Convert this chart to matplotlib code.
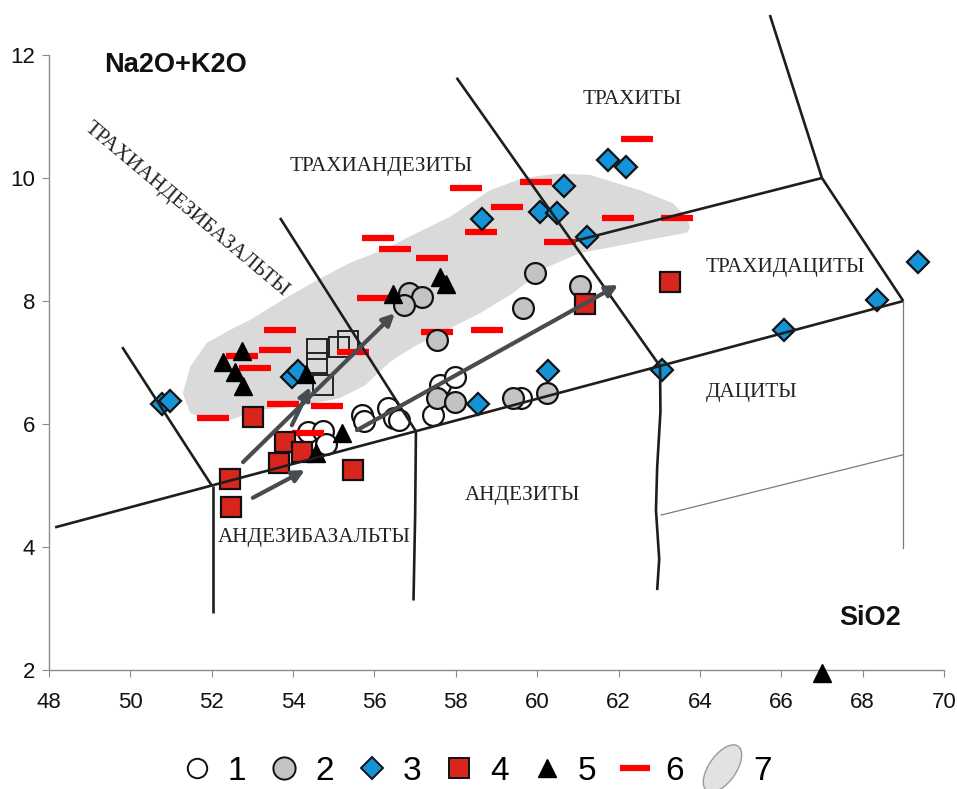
import matplotlib
matplotlib.use("Agg")
import matplotlib.pyplot as plt
from matplotlib.lines import Line2D
from matplotlib.path import Path
import numpy as np

# ---- data (SiO2, Na2O+K2O) ----
open_x = [54.37, 54.74, 54.81, 55.69, 55.74, 56.33, 56.48, 56.60, 57.44, 57.61, 57.98, 59.60]
open_y = [5.87, 5.89, 5.67, 6.15, 6.05, 6.26, 6.10, 6.07, 6.15, 6.63, 6.76, 6.42]

gray_x = [56.85, 57.17, 56.73, 57.54, 59.95, 61.05, 59.65, 57.54, 57.98, 59.41, 60.24]
gray_y = [8.13, 8.07, 7.93, 7.37, 8.46, 8.24, 7.89, 6.42, 6.36, 6.42, 6.50]

diam_x = [50.78, 50.97, 53.97, 54.12, 58.64, 58.55, 60.27, 60.07, 60.49, 60.66, 61.23,
          61.74, 62.18, 63.07, 66.07, 68.35, 69.36]
diam_y = [6.33, 6.37, 6.76, 6.86, 9.33, 6.33, 6.86, 9.45, 9.43, 9.87, 9.04,
          10.29, 10.18, 6.88, 7.53, 8.02, 8.63]

sq_x = [53.01, 53.80, 54.22, 53.65, 52.45, 52.47, 55.47, 61.18, 63.27]
sq_y = [6.11, 5.71, 5.54, 5.37, 5.11, 4.65, 5.25, 7.95, 8.31]

tri_x = [52.28, 52.74, 52.57, 52.77, 54.32, 56.46, 57.61, 57.76, 55.20, 54.56, 67.0]
tri_y = [7.01, 7.19, 6.85, 6.62, 6.81, 8.11, 8.39, 8.28, 5.85, 5.53, 1.95]

opensq_x = [54.59, 54.59, 55.13, 55.35, 54.74]
opensq_y = [7.22, 6.99, 7.25, 7.35, 6.63]

dash_x = [52.03, 52.74, 53.06, 53.56, 53.68, 53.75, 54.83, 54.37, 55.47, 55.96, 56.09, 56.51,
          57.42, 57.54, 58.77, 58.62, 58.25, 59.26, 59.97, 60.56, 61.99, 63.44, 62.45]
dash_y = [6.10, 7.11, 6.91, 7.20, 7.53, 6.33, 6.29, 5.85, 7.17, 8.05, 9.02, 8.85,
          8.70, 7.50, 7.53, 9.12, 9.84, 9.53, 9.93, 8.96, 9.35, 9.35, 10.63]

# field 7 outline
field_x = [51.29, 51.47, 51.88, 52.45, 52.94, 53.75, 54.59, 55.40, 56.21, 57.05, 57.86, 58.84,
           59.65, 60.49, 61.30, 62.53, 63.34, 63.68, 63.76, 63.68,
           62.70, 61.86, 61.05, 60.24, 59.41, 58.59, 57.78, 56.95, 56.38, 55.77, 55.15, 54.17,
           53.19, 52.38, 51.88, 51.47]
field_y = [6.50, 6.93, 7.32, 7.53, 7.69, 8.02, 8.34, 8.62, 8.83, 9.11, 9.37, 9.80,
           10.00, 10.07, 10.05, 9.80, 9.59, 9.35, 9.19, 9.11,
           8.99, 8.88, 8.78, 8.55, 8.13, 7.80, 7.53, 7.25, 7.01, 6.63, 6.42, 6.29,
           6.23, 6.05, 6.07, 6.18]

# trend arrows (start -> end)
arrow_x0 = [53.01, 52.77, 53.97, 55.57]
arrow_y0 = [4.80, 5.38, 5.98, 5.90]
arrow_x1 = [54.29, 56.50, 54.42, 61.99]
arrow_y1 = [5.25, 7.80, 6.60, 8.26]

# classification boundaries
bold_lines = [
    ([48.15, 52.0, 57.0, 63.0, 69.0], [4.32, 5.0, 5.88, 6.94, 8.0]),
    ([49.8, 52.0], [7.25, 5.0]),
    ([52.02, 52.02], [5.0, 2.93]),
    ([57.02, 57.0, 56.96], [5.88, 4.5, 3.13]),
    ([53.68, 57.02], [9.35, 5.88]),
    ([58.02, 63.02], [11.63, 6.94]),
    ([63.02, 63.03, 62.95, 62.92, 63.0, 62.95], [6.94, 6.2, 5.3, 4.6, 3.8, 3.3]),
    ([60.95, 67.0], [8.98, 10.0]),
    ([67.0, 69.0], [10.0, 8.0]),
    ([67.0, 65.72], [10.0, 12.65]),
]
thin_lines = [
    ([69.0, 69.0], [8.0, 3.98]),
    ([63.05, 69.0], [4.52, 5.5]),
]

labels = ["ТРАХИАНДЕЗИБАЗАЛЬТЫ", "ТРАХИАНДЕЗИТЫ", "ТРАХИТЫ", "ТРАХИДАЦИТЫ",
          "ДАЦИТЫ", "АНДЕЗИТЫ", "АНДЕЗИБАЗАЛЬТЫ"]
label_x = [51.39, 56.16, 62.33, 66.09, 65.28, 59.63, 54.51]
label_y = [9.48, 10.18, 11.27, 8.54, 6.52, 4.83, 4.15]
label_rot = [-40, 0, 0, 0, 0, 0, 0]

legend_names = ["1", "2", "3", "4", "5", "6", "7"]

fig = plt.figure(figsize=(9.57, 7.89), dpi=100)
ax = fig.add_axes([0.0512, 0.1508, 0.9352, 0.7795])
ax.set_xlim(48, 70)
ax.set_ylim(2, 12)
ax.set_xticks(np.arange(48, 71, 2))
ax.set_yticks(np.arange(2, 13, 2))
for s in ["top", "right"]:
    ax.spines[s].set_visible(False)
for s in ["left", "bottom"]:
    ax.spines[s].set_color("#8c8c8c")
    ax.spines[s].set_linewidth(1.0)
ax.tick_params(axis="both", direction="out", length=5, color="#8c8c8c",
               labelsize=16, labelcolor="#111111")
ax.tick_params(axis="x", pad=11)
ax.tick_params(axis="y", pad=5)
for t in ax.get_xticklabels() + ax.get_yticklabels():
    t.set_family("Liberation Sans")

# field 7
ax.fill(field_x, field_y, color="#dadada", lw=0, zorder=1)

# markers
ax.plot(open_x, open_y, "o", ms=15, mfc="white", mec="#111111", mew=1.6, ls="none", zorder=3)
ax.plot(gray_x, gray_y, "o", ms=15, mfc="#c3c3c3", mec="#111111", mew=1.6, ls="none", zorder=4)
ax.plot(opensq_x, opensq_y, "s", ms=15, mfc="none", mec="#222222", mew=1.4, ls="none", zorder=3)
ax.plot(dash_x, dash_y, "_", ms=23, mec="#ff0000", mew=4.5, ls="none", zorder=3)
ax.plot(diam_x, diam_y, "D", ms=11.5, mfc="#1493d8", mec="#111111", mew=1.6, ls="none", zorder=5)
ax.plot(sq_x, sq_y, "s", ms=14, mfc="#d9261c", mec="#111111", mew=1.6, ls="none", zorder=5)
ax.plot(tri_x, tri_y, "^", ms=12.5, mfc="black", mec="black", ls="none", zorder=5, clip_on=False)

# boundaries
for xs, ys in bold_lines:
    ax.plot(xs, ys, color="#1e1e1e", lw=1.9, zorder=6, clip_on=False, solid_capstyle="butt")
for xs, ys in thin_lines:
    ax.plot(xs, ys, color="#7a7a7a", lw=0.9, zorder=6, clip_on=False)

# arrows
for x0, y0, x1, y1 in zip(arrow_x0, arrow_y0, arrow_x1, arrow_y1):
    ax.annotate("", xy=(x1, y1), xytext=(x0, y0),
                arrowprops=dict(arrowstyle="-|>,head_length=0.7,head_width=0.35",
                                lw=3, color="#474c51", shrinkA=0, shrinkB=0),
                zorder=7)

# region names
for txt, lx, ly, rot in zip(labels, label_x, label_y, label_rot):
    ax.text(lx, ly, txt, family="Liberation Serif", fontsize=15.2, color="#222222",
            ha="center", va="center", rotation=rot, rotation_mode="anchor", zorder=8)

ax.text(51.12, 11.84, "Na2O+K2O", family="Liberation Sans", fontweight="bold",
        fontsize=19.5, ha="center", va="center", color="#111111")
ax.text(68.18, 2.85, "SiO2", family="Liberation Sans", fontweight="bold",
        fontsize=19.5, ha="center", va="center", color="#111111")

# legend
t = np.linspace(0, 2 * np.pi, 60)
ang = np.deg2rad(55)
ex, ey = 1.0 * np.cos(t), 0.5 * np.sin(t)
ell = Path(np.column_stack([ex * np.cos(ang) - ey * np.sin(ang),
                            ex * np.sin(ang) + ey * np.cos(ang)]))
handles = [
    Line2D([], [], marker="o", ms=14, mfc="white", mec="#111111", mew=1.4, ls="none"),
    Line2D([], [], marker="o", ms=16, mfc="#c3c3c3", mec="#111111", mew=1.4, ls="none"),
    Line2D([], [], marker="D", ms=11.5, mfc="#1493d8", mec="#111111", mew=1.4, ls="none"),
    Line2D([], [], marker="s", ms=15, mfc="#d9261c", mec="#111111", mew=1.4, ls="none"),
    Line2D([], [], marker="^", ms=13, mfc="black", mec="black", ls="none"),
    Line2D([], [], marker="_", ms=22, mec="#ff0000", mew=4.5, ls="none"),
    Line2D([], [], marker=ell, ms=34, mfc="#e2e2e2", mec="#9a9a9a", mew=1.0, ls="none"),
]
fig.legend(handles, legend_names, loc="center", bbox_to_anchor=(0.495, 0.022), ncol=7,
           frameon=False, handlelength=1.25, handletextpad=0.3, columnspacing=0.52,
           prop={"family": "Liberation Sans", "size": 24})

fig.savefig("out.png", dpi=100)
